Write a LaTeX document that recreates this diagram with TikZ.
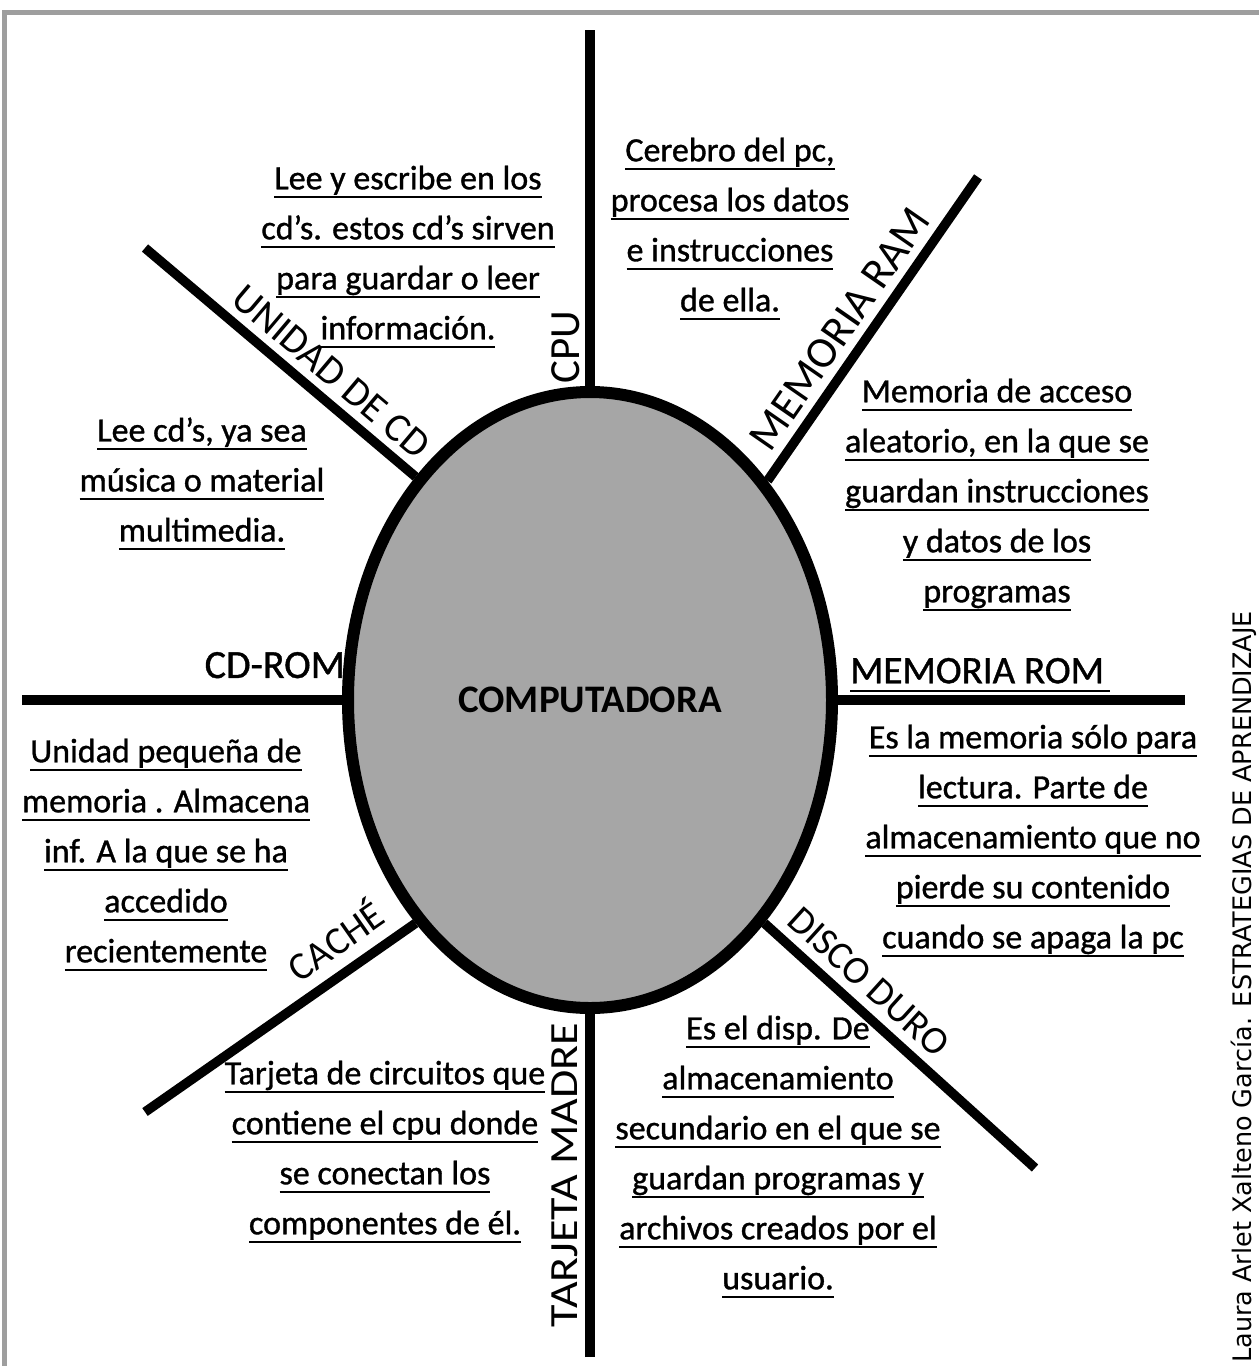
\documentclass[tikz,border=0pt]{standalone}
\usepackage{fontspec}
\setmainfont{Carlito}
\newfontfamily\notefont{Carlito}[FakeBold=1]
\newfontfamily\creditfont{DejaVu Sans}
\usetikzlibrary{shapes.geometric}
\tikzset{% styles of the map
    spoke/.style={line width=9.5pt},
    note/.style={align=center, font=\notefont\fontsize{34}{50}\selectfont, inner sep=0pt},
    tag/.style={inner sep=0pt, sloped}
}
\newcommand{\undl}[1]{\setbox0\hbox{#1}\rlap{\rule[-9pt]{\wd0}{2.5pt}}\box0}

\begin{document}
\begin{tikzpicture}[x=1pt,y=-1pt]
    \useasboundingbox (0,0) rectangle (1259,1366);

    % frame
    \draw[line width=5pt, black!38] (4,1366) -- (4,12.5) -- (1259,12.5);

    % centre
    \node[ellipse, draw, line width=12pt, fill=black!35, minimum width=484pt, minimum height=616pt, inner sep=0pt] (comp) at (590,700) {\fontsize{39}{44}\selectfont\bfseries COMPUTADORA};

    % outer ends of the spokes
    \coordinate (cpu) at (590,30);
    \coordinate (ram) at (978,177);
    \coordinate (rom) at (1185,700);
    \coordinate (disco) at (1035,1168);
    \coordinate (madre) at (590,1357);
    \coordinate (cache) at (145,1112);
    \coordinate (cdrom) at (22,700);
    \coordinate (unidad) at (145,248);

    % spokes with their labels
    \draw[spoke] (comp.north) -- (cpu) node[tag, pos=.11, above=5pt, font=\fontsize{43}{50}\selectfont] (cpulbl) {CPU};
    \draw[spoke] (comp.51.5) -- (ram) node[tag, pos=.45, above=8pt, font=\fontsize{44}{50}\selectfont] (ramlbl) {MEMORIA RAM};
    \draw[spoke] (comp.east) -- (rom) node[tag, pos=.41, above=3pt, font=\notefont\fontsize{39}{44}\selectfont] (romlbl) {\undl{MEMORIA ROM\,}};
    \draw[spoke] (comp.-52) -- (disco) node[tag, pos=.32, above=9pt, font=\fontsize{39}{44}\selectfont] (discolbl) {DISCO DURO};
    \draw[spoke] (madre) -- (comp.south) node[tag, pos=.53, above=7pt, font=\fontsize{40}{44}\selectfont] (madrelbl) {\scalebox{1.15}[1]{TARJETA MADRE}};
    \draw[spoke] (cache) -- (comp.-128.5) node[tag, pos=.77, above=12pt, font=\fontsize{39}{44}\selectfont] (cachelbl) {CACHÉ};
    \draw[spoke] (cdrom) -- (comp.west) node[tag, pos=.79, above=17pt, font=\notefont\fontsize{40}{44}\selectfont] (cdromlbl) {CD-ROM};
    \draw[spoke] (unidad) -- (comp.128.3) node[tag, pos=.626, above=8pt, font=\fontsize{40.5}{44}\selectfont] (unidadlbl) {UNIDAD DE CD};

    % notes
    \node[note] (unidadtxt) at (408,257) {\undl{Lee y escribe en los}\\ \undl{cd’s. estos cd’s sirven}\\ \undl{para guardar o leer}\\ \undl{información.}};
    \node[note] (cputxt) at (730,229) {\undl{Cerebro del pc,}\\ \undl{procesa los datos}\\ \undl{e instrucciones}\\ \undl{de ella.}};
    \node[note] (ramtxt) at (997,495) {\undl{Memoria de acceso}\\ \undl{aleatorio, en la que se}\\ \undl{guardan instrucciones}\\ \undl{y datos de los}\\ \undl{programas}};
    \node[note] (cdromtxt) at (202,484) {\undl{Lee cd’s, ya sea}\\ \undl{música o material}\\ \undl{multimedia.}};
    \node[note] (romtxt) at (1033,841) {\undl{Es la memoria sólo para}\\ \undl{lectura. Parte de}\\ \undl{almacenamiento que no}\\ \undl{pierde su contenido}\\ \undl{cuando se apaga la pc}};
    \node[note] (cachetxt) at (166,855) {\undl{Unidad pequeña de}\\ \undl{memoria . Almacena}\\ \undl{inf. A la que se ha}\\ \undl{accedido}\\ \undl{recientemente}};
    \node[note] (madretxt) at (385,1152) {\undl{Tarjeta de circuitos que}\\ \undl{contiene el cpu donde}\\ \undl{se conectan los}\\ \undl{componentes  de él.}};
    \node[note] (discotxt) at (778,1157) {\undl{Es el disp. De}\\ \undl{almacenamiento}\\ \undl{secundario en el que se}\\ \undl{guardan programas y}\\ \undl{archivos creados por el}\\ \undl{usuario.}};

    % credit
    \node[rotate=90, anchor=west, inner sep=0pt, font=\creditfont\fontsize{25.5}{30}\selectfont] (credit) at (1244,1363) {Laura Arlet Xalteno García. ESTRATEGIAS DE APRENDIZAJE};
\end{tikzpicture}
\end{document}
